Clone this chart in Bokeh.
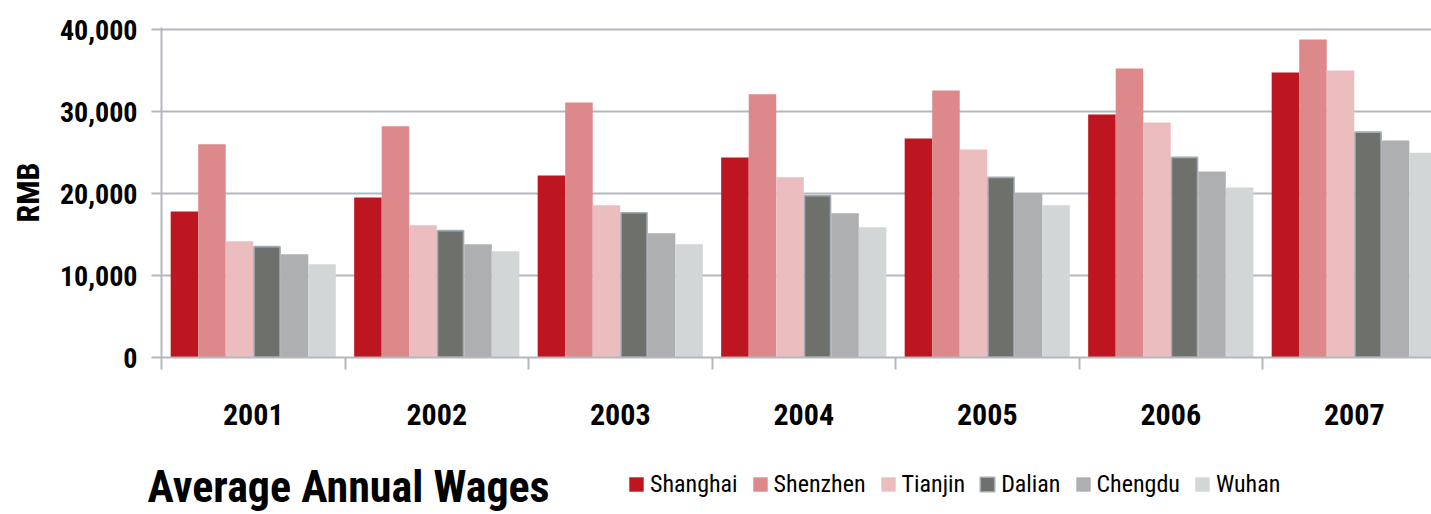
from bokeh.plotting import figure
from bokeh.layouts import column
from bokeh.models import (Range1d, FixedTicker, NumeralTickFormatter, Label,
                          Legend, LegendItem)
from bokeh.embed import file_html
from bokeh.resources import INLINE

# Average annual wages (RMB) by city, 2001-2007
years = ["2001", "2002", "2003", "2004", "2005", "2006", "2007"]
shanghai = [17800, 19500, 22200, 24400, 26700, 29650, 34760]
shenzhen = [26000, 28200, 31100, 32100, 32570, 35250, 38780]
tianjin = [14170, 16120, 18560, 21970, 25380, 28670, 35000]
dalian = [13520, 15470, 17660, 19740, 21970, 24410, 27490]
chengdu = [12590, 13810, 15150, 17580, 20060, 22700, 26480]
wuhan = [11370, 12950, 13810, 15880, 18560, 20750, 24970]

cities = ["Shanghai", "Shenzhen", "Tianjin", "Dalian", "Chengdu", "Wuhan"]
series = [shanghai, shenzhen, tianjin, dalian, chengdu, wuhan]
colors = ["#be1620", "#dd898c", "#ecbdbf", "#6e706b", "#aeafb0", "#d2d6d7"]
DALIAN_EDGE = "#a3abb3"

FONT = "'Roboto Condensed', 'Liberation Sans'"
GRID = "#b3b8be"

W = 1431
H_CHART, H_FOOT = 440, 74
LEFT, TOP, BOTTOM = 161, 27, 83
GROUP_PX = 183.5
frame_w = W - LEFT
bar_w = 0.15


def bar_x(k):
    return [i + 0.05 + bar_w * (k + 0.5) for i in range(len(years))]


p = figure(width=W, height=H_CHART, output_backend="svg", toolbar_location=None,
           x_range=Range1d(0, frame_w / GROUP_PX), y_range=Range1d(0, 40250),
           min_border_left=LEFT, min_border_right=0, min_border_top=TOP,
           min_border_bottom=BOTTOM)
p.outline_line_color = None

for k, (name, vals, col) in enumerate(zip(cities, series, colors)):
    if name == "Dalian":
        p.vbar(x=bar_x(k), top=vals, width=bar_w - 0.008, bottom=0, fill_color=col,
               line_color=DALIAN_EDGE, line_width=1.6)
    else:
        p.vbar(x=bar_x(k), top=vals, width=bar_w, bottom=0, fill_color=col,
               line_color=None)

# y axis and grid
p.yaxis.ticker = FixedTicker(ticks=[0, 10000, 20000, 30000, 40000])
p.yaxis.formatter = NumeralTickFormatter(format="0,0")
p.yaxis.major_label_text_font = FONT
p.yaxis.major_label_text_font_style = "bold"
p.yaxis.major_label_text_font_size = "28px"
p.yaxis.major_label_text_color = "black"
p.yaxis.major_tick_out = 10
p.yaxis.major_tick_in = 0
p.yaxis.minor_tick_out = 0
p.yaxis.minor_tick_in = 0
p.yaxis.major_label_standoff = 14
p.yaxis.axis_line_color = GRID
p.yaxis.axis_line_width = 2
p.yaxis.major_tick_line_color = GRID
p.yaxis.major_tick_line_width = 2
p.yaxis.axis_label = "RMB"
p.yaxis.axis_label_text_font = FONT
p.yaxis.axis_label_text_font_style = "bold"
p.yaxis.axis_label_text_font_size = "32px"
p.yaxis.axis_label_text_color = "black"
p.yaxis.axis_label_standoff = 10

p.ygrid.grid_line_color = GRID
p.ygrid.grid_line_width = 2
p.xgrid.grid_line_color = None

# x axis: year labels at group centres, tick marks at group boundaries
centers = [i + 0.5 for i in range(len(years))]
p.xaxis.ticker = FixedTicker(ticks=centers, minor_ticks=list(range(len(years) + 1)))
p.xaxis.major_label_overrides = {c: y for c, y in zip(centers, years)}
p.xaxis.major_label_text_font = FONT
p.xaxis.major_label_text_font_style = "bold"
p.xaxis.major_label_text_font_size = "30px"
p.xaxis.major_label_text_color = "black"
p.xaxis.major_tick_out = 0
p.xaxis.major_tick_in = 0
p.xaxis.minor_tick_out = 12
p.xaxis.minor_tick_in = 0
p.xaxis.minor_tick_line_color = GRID
p.xaxis.minor_tick_line_width = 2
p.xaxis.major_label_standoff = 34
p.xaxis.axis_line_color = GRID
p.xaxis.axis_line_width = 2

# footer strip: chart title and the city legend
foot = figure(width=W, height=H_FOOT, output_backend="svg", toolbar_location=None,
              x_range=Range1d(0, W), y_range=Range1d(0, H_FOOT),
              x_axis_location=None, y_axis_location=None,
              min_border=0, min_border_left=0, min_border_right=0,
              min_border_top=0, min_border_bottom=0)
if "frame_align" in foot.properties():
    foot.frame_align = False
foot.outline_line_color = None
foot.grid.grid_line_color = None

title = Label(x=147, y=2, x_units="screen", y_units="screen",
              text="Average Annual Wages", text_font=FONT,
              text_font_style="bold", text_font_size="44px",
              text_color="black", text_baseline="bottom")
foot.add_layout(title)

# hidden copies of the series, used only as legend swatches
swatches = []
for k, (name, vals, col) in enumerate(zip(cities, series, colors)):
    edge = DALIAN_EDGE if name == "Dalian" else None
    swatches.append(foot.vbar(x=bar_x(k), top=vals, width=bar_w, fill_color=col,
                              line_color=edge, line_width=1.6, visible=False))

legend = Legend(items=[LegendItem(label=n, renderers=[r]) for n, r in zip(cities, swatches)],
                orientation="horizontal", location=(627, 16),
                glyph_width=18, glyph_height=18, label_standoff=5, spacing=13,
                padding=0, margin=0, label_height=24,
                label_text_font=FONT, label_text_font_size="24px",
                label_text_color="black", inactive_fill_alpha=0,
                border_line_color=None, background_fill_alpha=0)
foot.add_layout(legend, "center")

layout = column(p, foot, spacing=0)
open("out.html", "w").write(file_html(layout, INLINE))
